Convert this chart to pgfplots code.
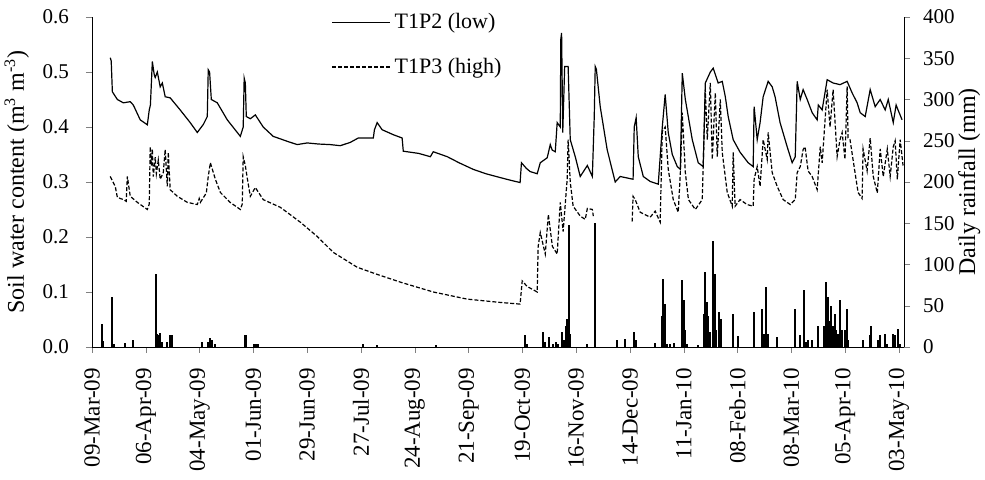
\documentclass[border=0pt]{standalone}
\usepackage{fontspec}
\setmainfont{Liberation Serif}
\usepackage{pgfplots}
\pgfplotsset{compat=1.18}

\begin{document}
\begin{tikzpicture}
\useasboundingbox (-46pt,-66.5pt) rectangle (446.5pt,173.5pt);

% rainfall on the right axis
\begin{axis}[
    width=406pt, height=165pt, scale only axis,
    xmin=0, xmax=422.6,
    ymin=0, ymax=400,
    axis x line=none,
    axis y line*=right,
    ytick={0,50,100,150,200,250,300,350,400},
    tick align=outside,
    major tick length=3pt,
    yticklabel shift=3pt,
    ylabel={Daily rainfall (mm)},
    ylabel style={font=\fontsize{12}{14}\selectfont, yshift=5pt},
    yticklabel style={font=\fontsize{10.5}{12}\selectfont},
    /pgf/number format/assume math mode=true,
]
\addplot[ycomb, black, line width=0.9pt] table {
5.4 28
5.9 7
10.6 61
11.6 4
17.3 5
21.5 9
33.5 89
34.0 16
34.5 14
35.5 17
36.6 6
39.2 6
40.7 14
41.8 15
57.4 6
60.5 6
61.6 11
62.6 8
64.2 4
79.8 15
80.3 15
84.4 4
85.5 4
86.5 4
141.2 4
148.4 3
179.1 3
225.4 14
226.5 4
234.8 18
235.9 6
237.9 12
240.0 4
241.6 6
242.6 4
244.7 18
245.7 8
246.8 25
247.3 34
247.8 30
248.4 148
248.9 16
257.8 4
261.9 150
273.4 9
277.5 10
282.2 18
283.2 9
293.1 5
296.8 38
297.3 83
298.3 52
299.4 4
300.9 4
303.0 5
307.2 81
308.2 57
308.8 20
309.8 4
315.5 3
318.6 40
319.2 91
320.2 55
320.7 37
321.8 18
323.3 129
324.4 89
324.9 20
326.5 42
327.5 34
333.7 40
336.3 13
344.6 42
348.7 46
349.3 16
350.3 16
350.8 73
351.9 16
356.6 12
366.0 46
368.6 14
370.6 69
371.7 6
372.7 8
374.8 8
377.9 26
381.0 26
382.1 79
383.1 61
384.1 32
384.7 50
385.7 26
386.8 40
387.3 20
388.3 16
389.3 57
390.4 20
391.9 20
393.0 46
393.5 8
401.3 8
405.0 14
405.5 26
409.2 8
410.2 14
412.8 16
413.9 4
417.0 16
418.0 15
419.6 22
420.6 4
};
\end{axis}

% soil water content on the left axis
\begin{axis}[
    width=406pt, height=165pt, scale only axis,
    xmin=0, xmax=422.6,
    ymin=0, ymax=0.6,
    axis x line*=bottom,
    axis y line*=left,
    tick align=outside,
    major tick length=3pt,
    xtick={0,28,56,84,112,140,168,196,224,252,280,308,336,364,392,420},
    xticklabels={09-Mar-09,06-Apr-09,04-May-09,01-Jun-09,29-Jun-09,27-Jul-09,24-Aug-09,21-Sep-09,19-Oct-09,16-Nov-09,14-Dec-09,11-Jan-10,08-Feb-10,08-Mar-10,05-Apr-10,03-May-10},
    xticklabel style={rotate=90, anchor=east, font=\fontsize{11.5}{13}\selectfont},
    xticklabel shift=4pt,
    ytick={0,0.1,0.2,0.3,0.4,0.5,0.6},
    yticklabel shift=5pt,
    yticklabel style={font=\fontsize{10.5}{12}\selectfont,
        /pgf/number format/.cd, fixed, fixed zerofill, precision=1},
    /pgf/number format/assume math mode=true,
    ylabel={Soil water content (m\textsuperscript{3} m\textsuperscript{-3})},
    ylabel style={font=\fontsize{12}{14}\selectfont},
    unbounded coords=jump,
    legend style={draw=none, fill=none, at={(0.287,1.036)}, anchor=north west,
        font=\fontsize{11}{13}\selectfont, row sep=9pt},
    legend cell align=left,
    legend image code/.code={\draw[#1] (0pt,0pt) -- (29pt,0pt);},
]
\addplot[black, line width=0.6pt] table {
9.5 0.526
10.0 0.520
10.6 0.464
13.2 0.450
16.3 0.444
19.9 0.446
21.5 0.440
25.1 0.413
28.8 0.404
29.8 0.431
30.4 0.440
31.4 0.519
32.4 0.495
32.9 0.490
34.0 0.500
35.5 0.473
36.6 0.480
38.1 0.455
40.7 0.453
45.9 0.431
51.1 0.408
54.8 0.390
58.0 0.405
60.0 0.419
60.5 0.504
61.2 0.500
62.1 0.450
65.2 0.444
70.4 0.413
77.2 0.383
78.7 0.400
79.2 0.489
79.8 0.480
80.3 0.419
82.4 0.415
85.0 0.422
89.1 0.400
94.3 0.383
101.6 0.374
106.8 0.368
112.0 0.371
118.0 0.369
124.0 0.368
129.2 0.366
134.4 0.372
138.6 0.380
146.4 0.380
147.0 0.395
148.4 0.408
151.0 0.395
156.8 0.386
161.4 0.380
162.0 0.356
170.0 0.352
176.1 0.346
177.6 0.355
184.9 0.346
191.0 0.335
198.4 0.323
205.0 0.315
212.5 0.308
218.0 0.303
222.8 0.299
223.5 0.335
226.0 0.325
228.0 0.319
231.7 0.315
233.3 0.335
236.9 0.344
238.5 0.368
239.5 0.358
241.1 0.355
242.1 0.408
243.7 0.400
244.0 0.560
244.4 0.571
245.0 0.390
246.0 0.510
247.8 0.510
248.9 0.377
251.5 0.346
254.1 0.310
257.8 0.330
260.4 0.310
261.4 0.420
261.9 0.510
262.5 0.505
264.5 0.437
268.1 0.359
272.3 0.300
274.9 0.310
281.6 0.305
282.2 0.400
283.2 0.417
284.3 0.346
286.9 0.310
290.5 0.301
294.7 0.296
296.8 0.400
298.3 0.459
299.9 0.390
302.0 0.350
304.6 0.328
306.2 0.323
307.2 0.498
308.8 0.450
312.4 0.377
315.5 0.335
318.1 0.328
319.2 0.480
321.8 0.500
323.3 0.507
325.9 0.480
328.0 0.483
329.6 0.455
331.1 0.419
333.7 0.377
337.3 0.354
341.5 0.335
344.1 0.328
344.6 0.437
346.2 0.377
347.7 0.408
349.3 0.455
351.9 0.483
354.0 0.473
355.5 0.455
358.1 0.408
361.8 0.364
364.4 0.335
366.0 0.346
367.0 0.483
368.6 0.450
370.1 0.468
372.2 0.450
374.8 0.426
377.4 0.413
378.0 0.440
380.0 0.431
382.6 0.486
385.7 0.480
389.3 0.477
393.0 0.483
395.6 0.462
398.2 0.444
399.8 0.426
402.4 0.419
405.0 0.468
407.6 0.437
410.2 0.450
412.8 0.431
414.4 0.450
417.0 0.408
418.5 0.440
419.5 0.431
421.6 0.413
};
\addlegendentry{T1P2 (low)}

\addplot[black, line width=0.6pt, dash pattern=on 2pt off 1pt] table {
9.5 0.310
12.1 0.292
13.2 0.272
16.3 0.268
17.8 0.265
18.4 0.310
19.9 0.274
23.6 0.263
28.8 0.250
29.8 0.260
30.3 0.364
30.9 0.330
31.4 0.360
31.9 0.310
32.9 0.345
33.5 0.315
34.5 0.340
35.5 0.305
37.1 0.317
38.1 0.359
39.2 0.292
39.7 0.354
40.7 0.286
44.4 0.274
49.6 0.263
54.8 0.259
55.8 0.270
56.4 0.263
59.5 0.280
60.5 0.310
61.6 0.335
64.2 0.305
66.8 0.281
71.9 0.263
77.2 0.250
78.2 0.260
78.7 0.346
79.8 0.330
80.9 0.305
82.4 0.274
85.0 0.290
89.1 0.268
98.0 0.254
108.4 0.227
117.2 0.201
125.6 0.172
138.0 0.145
148.4 0.132
160.4 0.118
177.6 0.100
195.3 0.087
212.5 0.081
222.8 0.078
223.9 0.120
226.5 0.110
231.7 0.100
232.2 0.183
233.3 0.208
235.9 0.169
237.5 0.241
239.6 0.183
242.1 0.169
243.7 0.263
245.2 0.210
247.3 0.305
247.8 0.377
248.9 0.300
250.4 0.256
254.1 0.238
256.7 0.232
257.8 0.252
260.4 0.250
260.9 0.238
270.0 nan
281.1 0.228
281.6 0.274
282.7 0.268
285.3 0.245
290.5 0.236
293.1 0.247
295.7 0.227
296.8 0.392
298.3 0.400
299.9 0.323
302.5 0.268
305.1 0.245
306.2 0.317
307.2 0.426
308.8 0.317
310.4 0.268
314.0 0.250
317.6 0.268
319.2 0.468
320.2 0.377
321.8 0.480
322.8 0.341
324.4 0.462
325.4 0.346
327.0 0.450
328.0 0.354
330.6 0.281
333.2 0.256
333.7 0.354
334.7 0.256
337.3 0.268
340.9 0.259
344.1 0.256
344.6 0.305
346.2 0.328
347.7 0.292
349.3 0.377
351.4 0.341
351.9 0.390
354.0 0.317
356.6 0.292
359.7 0.268
363.4 0.259
366.0 0.268
367.0 0.317
368.6 0.328
370.1 0.359
371.1 0.364
372.7 0.320
374.8 0.310
377.4 0.286
379.0 0.364
380.0 0.335
382.6 0.468
384.1 0.400
385.7 0.468
387.8 0.346
389.3 0.377
390.4 0.390
391.9 0.341
393.0 0.474
393.5 0.380
394.5 0.377
397.2 0.315
398.7 0.281
400.8 0.270
401.3 0.360
403.4 0.320
405.0 0.380
406.6 0.310
408.7 0.280
410.2 0.360
411.8 0.310
413.9 0.360
415.4 0.310
417.0 0.364
418.0 0.375
419.1 0.305
420.6 0.377
422.1 0.330
};
\addlegendentry{T1P3 (high)}
\end{axis}
\end{tikzpicture}
\end{document}
